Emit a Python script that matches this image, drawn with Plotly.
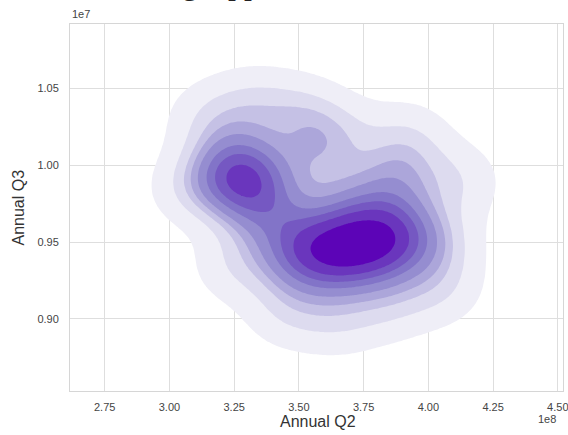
import numpy as np
import plotly.graph_objects as go

# Estimated observations (Annual Q2 in 1e8, Annual Q3 in 1e7)
annual_q2 = [3.48, 3.54, 3.60, 3.66, 3.72, 3.78, 3.84, 3.90, 3.62, 3.74, 3.86,
             3.25, 3.29, 3.27, 3.27, 3.38, 3.45, 3.33,
             3.68, 3.85, 3.88, 3.92,
             3.50, 3.15, 3.32, 3.08, 3.64, 3.56,
             3.45, 3.65, 3.85,
             4.05, 4.05, 4.12, 3.25]
annual_q3 = [0.940, 0.941, 0.943, 0.945, 0.947, 0.949, 0.951, 0.953, 0.943, 0.948, 0.952,
             0.995, 0.990, 1.000, 0.994, 0.972, 0.958, 0.980,
             0.975, 0.978, 0.995, 1.018,
             1.035, 1.030, 1.040, 0.985, 1.022, 1.005,
             0.905, 0.900, 0.910,
             0.950, 0.920, 0.990, 0.935]

x_tick_vals = [2.75, 3.00, 3.25, 3.50, 3.75, 4.00, 4.25, 4.50]
x_tick_text = ["2.75", "3.00", "3.25", "3.50", "3.75", "4.00", "4.25", "4.50"]
y_tick_vals = [0.90, 0.95, 1.00, 1.05]
y_tick_text = ["0.90", "0.95", "1.00", "1.05"]

band_colors = ["#efeef7", "#dddbef", "#c5c1e5", "#aca6da", "#958dd0",
               "#8274c8", "#7558c2", "#6a36bd", "#5c04b7"]

X_SCALE, Y_SCALE = 1e8, 1e7
x_range = [2.616, 4.52]
y_range = [0.853, 1.092]
bw_x, bw_y = 0.12, 0.018
n_levels, thresh = 10, 0.05

px = np.array(annual_q2)
py = np.array(annual_q3)
gx = np.linspace(x_range[0] - 0.3, x_range[1] + 0.3, 280)
gy = np.linspace(y_range[0] - 0.05, y_range[1] + 0.05, 280)
GX, GY = np.meshgrid(gx, gy)
dens = np.zeros_like(GX)
for a, b in zip(px, py):
    dens += np.exp(-0.5 * (((GX - a) / bw_x) ** 2 + ((GY - b) / bw_y) ** 2))
dens /= dens.sum()

iso = np.linspace(thresh, 1, n_levels)
sv = np.sort(dens.ravel())[::-1]
cum = np.cumsum(sv) / sv.sum()
lvl = np.take(sv, np.searchsorted(cum, 1 - iso), mode="clip")
lvl = np.sort(lvl)
idx = np.arange(n_levels, dtype=float)
zp = np.where(dens < lvl[0], dens / lvl[0] - 1, np.interp(dens, lvl, idx))

nb = n_levels - 1
cs = []
trans = "rgba(255,255,255,0)"
cs += [[0.0, trans], [0.5 / nb, trans]]
for k, c in enumerate(band_colors):
    lo = (k + 0.5) / nb
    hi = min((k + 1.5) / nb, 1.0)
    cs += [[lo, c], [hi, c]]

fig = go.Figure(go.Contour(
    x=gx * X_SCALE, y=gy * Y_SCALE, z=zp,
    contours=dict(start=0, end=n_levels - 2, size=1, coloring="fill"),
    colorscale=cs, zmin=-0.5, zmax=n_levels - 1.5, showscale=False,
    line=dict(width=0), hoverinfo="skip"))

tick_font = dict(size=11, color="#444444", family="Liberation Sans, Arial, sans-serif")
axis_common = dict(showgrid=True, gridcolor="#dedede", gridwidth=1, zeroline=False,
                   showline=True, linecolor="#d6d6d6", linewidth=1, mirror=True,
                   ticks="", tickfont=tick_font, automargin=False,
                   ticklabeloverflow="allow")
fig.update_xaxes(range=[x_range[0] * X_SCALE, x_range[1] * X_SCALE],
                 tickvals=[v * X_SCALE for v in x_tick_vals], ticktext=x_tick_text,
                 ticklabelstandoff=6, **axis_common)
fig.update_yaxes(range=[y_range[0] * Y_SCALE, y_range[1] * Y_SCALE],
                 tickvals=[v * Y_SCALE for v in y_tick_vals], ticktext=y_tick_text,
                 ticklabelstandoff=8, **axis_common)

title_font = dict(size=16, color="#333333", family="Liberation Sans, Arial, sans-serif")
fig.update_layout(
    width=568, height=435, margin=dict(l=70, r=5, t=24, b=44),
    paper_bgcolor="white", plot_bgcolor="white",
    font=dict(family="Liberation Sans, Arial, sans-serif"),
    annotations=[
        dict(text="Annual Q2", xref="paper", yref="paper", x=0.503, y=0,
             xanchor="center", yanchor="middle", yshift=-30, showarrow=False,
             font=title_font),
        dict(text="Annual Q3", xref="paper", yref="paper", x=0, y=0.5,
             xanchor="center", yanchor="middle", xshift=-52, textangle=-90,
             showarrow=False, font=title_font),
        dict(text="1e7", xref="paper", yref="paper", x=0, y=1, xanchor="left",
             yanchor="middle", showarrow=False, yshift=10, xshift=0,
             font=dict(size=11, color="#444444")),
        dict(text="1e8", xref="paper", yref="paper", x=1, y=0, xanchor="right",
             yanchor="middle", showarrow=False, yshift=-28, xshift=-5,
             font=dict(size=11, color="#444444")),
        dict(text="g", xref="paper", yref="paper", x=(181 - 70) / 493, y=1.059,
             xanchor="left", yanchor="bottom", showarrow=False, borderpad=0,
             font=dict(size=32, color="#222222", family="Liberation Serif, serif")),
        dict(text="pp", xref="paper", yref="paper", x=(227 - 70) / 493, y=1.059,
             xanchor="left", yanchor="bottom", showarrow=False, borderpad=0,
             font=dict(size=32, color="#222222", family="Liberation Serif, serif")),
    ],
)
fig.write_html("out.html", config={"displayModeBar": False},
               post_script="document.body.style.margin='0px';")
